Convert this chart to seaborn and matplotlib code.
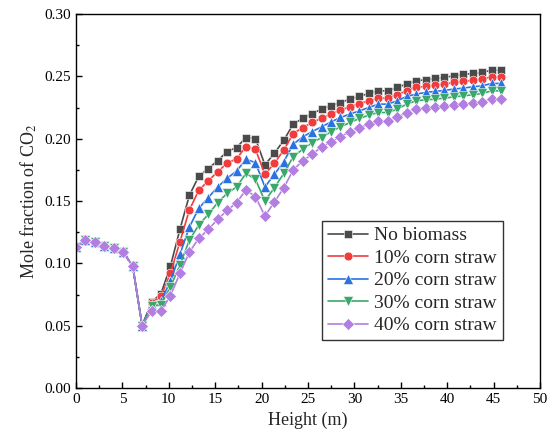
import numpy as np
import pandas as pd
import matplotlib
matplotlib.use("Agg")
import matplotlib.pyplot as plt
import seaborn as sns
from matplotlib.ticker import MultipleLocator

height = [0.0, 1.02, 2.04, 3.05, 4.07, 5.09, 6.11, 7.13, 8.14, 9.16,
          10.18, 11.2, 12.22, 13.23, 14.25, 15.27, 16.29, 17.31, 18.32, 19.34,
          20.36, 21.38, 22.4, 23.41, 24.43, 25.45, 26.47, 27.49, 28.5, 29.52,
          30.54, 31.56, 32.58, 33.59, 34.61, 35.63, 36.65, 37.67, 38.68, 39.7,
          40.72, 41.74, 42.76, 43.77, 44.79, 45.81]

common = [0.1133, 0.1187, 0.1170, 0.1138, 0.1120, 0.1090, 0.0978, 0.0501]

no_biomass = common + [0.0688, 0.0758, 0.0978, 0.1272, 0.1546, 0.1698, 0.1760, 0.1824,
                       0.1897, 0.1929, 0.2009, 0.2001, 0.1790, 0.1883, 0.1988, 0.2116,
                       0.2164, 0.2202, 0.2237, 0.2264, 0.2290, 0.2317, 0.2339, 0.2363,
                       0.2384, 0.2384, 0.2411, 0.2438, 0.2464, 0.2473, 0.2483, 0.2491,
                       0.2505, 0.2515, 0.2523, 0.2531, 0.2550, 0.2550]
straw10 = common + [0.0680, 0.0737, 0.0919, 0.1173, 0.1428, 0.1586, 0.1661, 0.1736,
                    0.1803, 0.1840, 0.1937, 0.1915, 0.1714, 0.1803, 0.1910, 0.2041,
                    0.2089, 0.2130, 0.2164, 0.2197, 0.2229, 0.2256, 0.2282, 0.2304,
                    0.2325, 0.2325, 0.2352, 0.2384, 0.2411, 0.2419, 0.2430, 0.2438,
                    0.2451, 0.2459, 0.2467, 0.2478, 0.2497, 0.2491]
straw20 = common + [0.0670, 0.0700, 0.0857, 0.1072, 0.1291, 0.1441, 0.1527, 0.1613,
                    0.1682, 0.1741, 0.1835, 0.1808, 0.1613, 0.1714, 0.1816, 0.1956,
                    0.2014, 0.2057, 0.2095, 0.2135, 0.2170, 0.2197, 0.2223, 0.2250,
                    0.2277, 0.2277, 0.2304, 0.2339, 0.2357, 0.2371, 0.2379, 0.2387,
                    0.2398, 0.2406, 0.2416, 0.2424, 0.2443, 0.2443]
straw30 = common + [0.0656, 0.0670, 0.0812, 0.0986, 0.1187, 0.1307, 0.1393, 0.1487,
                    0.1562, 0.1613, 0.1722, 0.1674, 0.1500, 0.1607, 0.1722, 0.1856,
                    0.1915, 0.1969, 0.2009, 0.2057, 0.2095, 0.2130, 0.2162, 0.2189,
                    0.2210, 0.2210, 0.2237, 0.2277, 0.2304, 0.2312, 0.2317, 0.2325,
                    0.2336, 0.2344, 0.2352, 0.2363, 0.2384, 0.2384]
straw40 = common + [0.0616, 0.0616, 0.0742, 0.0919, 0.1090, 0.1200, 0.1272, 0.1353,
                    0.1425, 0.1487, 0.1589, 0.1535, 0.1380, 0.1492, 0.1607, 0.1749,
                    0.1822, 0.1875, 0.1934, 0.1974, 0.2017, 0.2055, 0.2089, 0.2116,
                    0.2143, 0.2143, 0.2170, 0.2210, 0.2242, 0.2250, 0.2258, 0.2264,
                    0.2272, 0.2280, 0.2290, 0.2298, 0.2317, 0.2317]

series_names = ["No biomass", "10% corn straw", "20% corn straw",
                "30% corn straw", "40% corn straw"]
series_values = [no_biomass, straw10, straw20, straw30, straw40]

frames = []
for name, vals in zip(series_names, series_values):
    frames.append(pd.DataFrame({"Height": height, "CO2": vals, "Case": name}))
df = pd.concat(frames, ignore_index=True)

colors = ["#4a4a4a", "#f03c3c", "#2a72e0", "#3aa86a", "#b27ee2"]
markers = ["s", "o", "^", "v", "D"]
msizes = [5.5, 6.3, 6.5, 6.5, 5.8]

sns.set_style("ticks")
plt.rcParams["font.family"] = ["Liberation Serif", "DejaVu Serif"]
plt.rcParams["mathtext.fontset"] = "stix"

fig = plt.figure(figsize=(5.53, 4.45), dpi=100)
ax = fig.add_axes([0.1374, 0.128, 0.839, 0.8405])

sns.lineplot(data=df, x="Height", y="CO2", hue="Case", style="Case",
             hue_order=series_names, style_order=series_names,
             palette=dict(zip(series_names, colors)),
             markers=dict(zip(series_names, markers)), dashes=False,
             markersize=6, markeredgewidth=0.4, linewidth=1.2, ax=ax)

for ln, ms in zip(ax.get_lines(), msizes):
    ln.set_markersize(ms)

ax.set_xlim(0, 50)
ax.set_ylim(0, 0.30)
ax.xaxis.set_major_locator(MultipleLocator(5))
ax.xaxis.set_minor_locator(MultipleLocator(2.5))
ax.yaxis.set_major_locator(MultipleLocator(0.05))
ax.yaxis.set_minor_locator(MultipleLocator(0.025))
ax.yaxis.set_major_formatter(matplotlib.ticker.FormatStrFormatter("%.2f"))
ax.tick_params(which="both", direction="in", top=False, right=False,
               labelsize=11, width=1.0, colors="black")
ax.tick_params(which="major", length=4)
ax.tick_params(which="minor", length=2)
for sp in ax.spines.values():
    sp.set_linewidth(1.0)
    sp.set_color("black")
    sp.set_visible(True)

ax.set_xlabel("Height (m)", fontsize=13)
ax.set_ylabel("Mole fraction of CO$_2$", fontsize=13)

leg = ax.legend(loc="lower right", bbox_to_anchor=(0.92, 0.128), fontsize=14,
                frameon=True, fancybox=False, handlelength=2.1,
                borderpad=0.3, labelspacing=0.25, handletextpad=0.3,
                borderaxespad=0.0)
leg.get_frame().set_edgecolor("black")
leg.get_frame().set_linewidth(1.0)
for h, ms in zip(leg.legend_handles, msizes):
    h.set_markersize(ms)

fig.savefig("out.png", dpi=100)
